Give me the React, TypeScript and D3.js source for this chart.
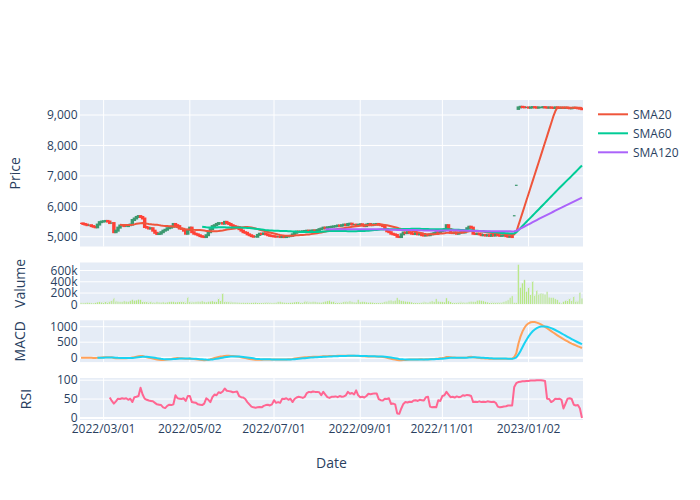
import React from "react";
import * as d3 from "d3";

// ---------- data ----------
const FIRST_DAY = "2022-02-10";
const LAST_DAY = "2023-02-10";
// market holidays (weekdays with no trading row); non-trading days are removed from the axis
const HOLIDAYS = [
  "2022-02-11", "2022-02-23", "2022-03-21", "2022-04-29", "2022-05-03", "2022-05-04", "2022-05-05",
  "2022-07-18", "2022-08-11", "2022-09-19", "2022-09-23", "2022-10-10", "2022-11-03", "2022-11-23",
  "2023-01-02", "2023-01-03", "2023-01-09",
];

// daily closing prices, one per trading day
const closes = [
  5440,
  5420, 5400, 5380, 5380, 5350, 5330, 5310,
  5400, 5480, 5500, 5510, 5520, 5500, 5450, 5450, 5150, 5200, 5300, 5370, 5380, 5350, 5350, 5380, 5400,
  5550, 5600, 5650, 5680, 5650, 5600, 5320, 5300, 5270, 5280, 5200, 5130, 5090, 5100, 5150, 5200, 5230, 5280,
  5300, 5330, 5420, 5380, 5350, 5270, 5260, 5200, 5100, 5230,
  5300,
  5150, 5100, 5080, 5050, 5020, 5000, 4990, 5050, 5150, 5250, 5350, 5380, 5420, 5450, 5450, 5430, 5490, 5450,
  5420, 5380, 5350, 5330, 5320, 5250, 5200, 5150, 5130, 5080, 5050, 5020, 5000, 5000, 5060, 5100, 5090, 5110,
  5080, 5050, 5030, 5020, 5010, 5000, 5000, 4990, 5000, 4990, 5010, 5020, 5030, 5080, 5130,
  5170, 5160, 5170, 5180, 5190, 5200, 5180, 5200, 5210, 5200, 5220, 5250, 5270, 5300, 5280, 5310, 5320,
  5330, 5340, 5350, 5370, 5360, 5380, 5400, 5380, 5420, 5430, 5400, 5400, 5380, 5390, 5410, 5380, 5350, 5400,
  5420, 5380, 5400, 5410, 5420, 5400, 5380, 5350,
  5250, 5180, 5150,
  5100, 5080, 5060, 5000, 4990, 5080, 5140, 5120, 5150, 5130,
  5100, 5090, 5120, 5080, 5100, 5050, 5040, 5060, 5050, 5080, 5100, 5120, 5150, 5130, 5180, 5200, 5250,
  5380, 5250, 5130, 5120, 5140, 5100, 5130, 5150, 5140, 5200, 5280, 5330, 5300,
  5100, 5090, 5100, 5080, 5050, 5060, 5040, 5050, 5030, 5060, 5040, 5080, 5050, 5030, 5040, 5050, 5020, 5000,
  5010, 4990, 5690, 6690,
  9250, 9270, 9260, 9250, 9250, 9240, 9250, 9260, 9250, 9240, 9250, 9250, 9260, 9250, 9240, 9250,
  9240, 9230, 9250, 9240, 9230, 9240, 9230, 9240, 9230, 9220, 9230, 9240, 9230, 9220, 9210, 9190,
];

// opening prices that differ from the previous close (gap days)
const openOverrides: Record<string, number> = {
  "2022-12-22": 5690,
  "2022-12-23": 6690,
  "2022-12-26": 9200,
};

// daily volume, thousands of shares
const volumesK = [
  30,
  25, 28, 35, 30, 25, 22, 28,
  40, 45, 38, 45, 50, 45, 60, 70, 113, 60, 55, 50, 45, 60, 55, 50, 65,
  85, 70, 75, 90, 82, 60, 55, 48, 45, 50, 40, 35, 45, 40, 38, 42, 35, 40, 45, 50, 48, 40, 42, 55, 60, 50, 45, 131,
  48,
  45, 42, 48, 55, 50, 60, 45, 40, 50, 55, 60, 48, 45, 113, 70, 193, 55, 50, 48, 45, 40, 40,
  38, 35, 30, 32, 28, 30, 25, 28, 30, 35, 32, 28, 30, 35, 40, 38, 32, 28, 30, 35, 45, 50, 40, 35, 30, 28, 32, 35, 40,
  50, 48, 40, 38, 60, 55, 45, 42, 50, 48, 40, 38, 35, 42, 55, 60, 70,
  50, 48, 45, 40, 38, 42, 50, 55, 48, 60, 45, 40, 38, 84, 42, 50, 45, 40, 35, 38, 35, 33, 32, 30, 35, 40,
  50, 55, 72,
  75, 60, 72, 117, 80, 65, 60, 55, 50, 45,
  40, 38, 35, 30, 32, 38, 45, 40, 35, 50, 60, 45, 100, 55, 48, 45, 40,
  113, 60, 48, 40, 35, 38, 42, 45, 40, 35, 38, 45, 55,
  50, 45, 72, 75, 68, 60, 48, 40, 35, 45, 42, 38, 40, 36, 38, 45, 60, 78, 121,
  150, 32, 30,
  708, 300, 378, 438, 229, 306, 180, 409, 168, 252, 186, 198, 192, 180, 229, 127, 121, 121, 97, 80,
  38, 20, 50, 68, 80, 110, 68, 140, 62, 62, 210, 110,
];

// RSI(14); the first 14 trading days have no value
const rsiValues: (number | null)[] = [
  null, null, null, null, null, null, null, null, null, null, null, null, null, null,
  54, 45, 38, 44, 51, 50, 52, 51, 52, 48, 51,
  42, 55, 56, 58, 80, 62, 51, 48, 46, 45, 44, 40, 36, 35, 34, 28, 26, 32, 35, 34, 36, 60, 52, 51, 50, 52, 45, 58,
  58,
  42, 41, 40, 36, 35, 34, 38, 52, 48, 42, 55, 62, 60, 68, 66, 70, 78, 72, 71, 70, 68, 69, 70, 58, 55, 54, 50, 42,
  36, 30, 28, 27, 28, 29, 28, 32, 34, 35, 33, 36, 47, 40, 42, 40, 51, 50, 52, 48, 51, 42, 50,
  54, 56, 55, 53, 56, 66, 69, 68, 70, 69, 69, 68, 60, 69, 62, 55, 53,
  56, 56, 57, 55, 58, 56, 57, 60, 69, 64, 66, 62, 73, 60, 55, 56, 54, 58, 64, 63, 64, 65, 65, 50, 47, 46,
  51, 50, 52,
  37, 38, 36, 12, 11, 25, 37, 42, 41, 43,
  42, 46, 47, 45, 48, 47, 46, 55, 56, 30, 28, 29, 28, 47, 45, 58, 60,
  69, 62, 55, 56, 54, 57, 55, 56, 60, 59, 61, 60, 58,
  42, 43, 42, 44, 42, 43, 42, 44, 43, 42, 43, 40, 30, 28, 29, 30, 31, 33,
  33, 33, 82, 92, 95,
  96, 97, 97, 98, 98, 99, 99, 99, 100, 100, 100, 99, 98,
  51,
  50, 42, 45, 51, 50, 51, 48, 25, 38, 51, 52, 50, 35, 33, 34, 25, 0,
];

const smaWindows = [20, 60, 120];
const smaNames = ["SMA20", "SMA60", "SMA120"];
const smaColors = ["#EF553B", "#00cc96", "#ab63fa"];

const priceTicks = [5000, 6000, 7000, 8000, 9000];
const volumeTicks = [0, 200000, 400000, 600000];
const macdTicks = [0, 500, 1000];
const rsiTicks = [0, 50, 100];
const xTickDates = ["2022-03-01", "2022-05-02", "2022-07-01", "2022-09-01", "2022-11-01", "2023-01-02"];

// ---------- helpers ----------
function tradingDays(): string[] {
  const out: string[] = [];
  const d = new Date(FIRST_DAY + "T00:00:00Z");
  const end = new Date(LAST_DAY + "T00:00:00Z");
  while (d <= end) {
    const day = d.getUTCDay();
    const iso = d.toISOString().slice(0, 10);
    if (day !== 0 && day !== 6 && !HOLIDAYS.includes(iso)) out.push(iso);
    d.setUTCDate(d.getUTCDate() + 1);
  }
  return out;
}

function rolling(values: number[], n: number): (number | null)[] {
  return values.map((_, i) => (i < n - 1 ? null : (d3.mean(values.slice(i - n + 1, i + 1)) as number)));
}

function ewm(values: number[], span: number): number[] {
  const a = 2 / (span + 1);
  let num = 0;
  let den = 0;
  return values.map((v) => {
    num = v + (1 - a) * num;
    den = 1 + (1 - a) * den;
    return num / den;
  });
}

// ---------- layout ----------
const FONT = '"Open Sans", verdana, arial, sans-serif';
const TXT = "#2a3f5f";
const BG = "#E5ECF6";
const L = 80;
const R = 583;
const panels = {
  price: [100, 246.5],
  vol: [262.5, 304.3],
  macd: [320.3, 362.1],
  rsi: [378.1, 420],
};

export default function App() {
  const days = tradingDays();
  const n = Math.min(days.length, closes.length);
  const rows = days.slice(0, n).map((date, i) => ({
    date,
    i,
    close: closes[i],
    open: openOverrides[date] ?? (i === 0 ? closes[0] : closes[i - 1]),
    volume: (volumesK[i] ?? 0) * 1000,
    rsi: rsiValues[i] ?? null,
  }));

  // date axis with non-trading days removed: one slot per trading row
  const x = d3.scaleLinear().domain([-0.5, n - 0.5]).range([L, R]);
  const yP = d3.scaleLinear().domain([4680, 9493]).range([panels.price[1], panels.price[0]]);
  const yV = d3.scaleLinear().domain([0, 743000]).range([panels.vol[1], panels.vol[0]]);
  const yM = d3.scaleLinear().domain([-142, 1206]).range([panels.macd[1], panels.macd[0]]);
  const yR = d3.scaleLinear().domain([-5.5, 105.5]).range([panels.rsi[1], panels.rsi[0]]);

  const cl = rows.map((r) => r.close);
  const smas = smaWindows.map((w) => rolling(cl, w));
  const ema12 = ewm(cl, 12);
  const ema26 = ewm(cl, 26);
  const macd = ema12.map((v, i) => v - ema26[i]);
  const signalRaw = ewm(macd, 9);
  const signal = signalRaw.map((v, i) => (i < 8 ? null : v));

  const lineGen = (ys: d3.ScaleLinear<number, number>) =>
    d3
      .line<{ i: number; v: number | null }>()
      .defined((d) => d.v !== null && d.v !== undefined)
      .x((d) => x(d.i))
      .y((d) => ys(d.v as number));

  // a tick on a non-trading day sits at the next trading day
  const xTicks = xTickDates.map((d) => ({
    i: rows.findIndex((r) => r.date >= d),
    label: d.replace(/-/g, "/"),
  }));
  const dayPx = x(1) - x(0);
  const fmtComma = d3.format(",");
  const fmtK = (v: number) => (v === 0 ? "0" : `${v / 1000}k`);

  const panelBg = (key: keyof typeof panels) => (
    <rect x={L} y={panels[key][0]} width={R - L} height={panels[key][1] - panels[key][0]} fill={BG} />
  );

  const hGrid = (ticks: number[], ys: any, zero = false) =>
    ticks.map((t) => (
      <line key={t} x1={L} x2={R} y1={ys(t)} y2={ys(t)} stroke="#fff" strokeWidth={zero && t === 0 ? 2 : 1} />
    ));

  const vGrid = (key: keyof typeof panels) =>
    xTicks.map((t) => (
      <line key={t.label} x1={x(t.i)} x2={x(t.i)} y1={panels[key][0]} y2={panels[key][1]} stroke="#fff" strokeWidth={1} />
    ));

  const yLabels = (ticks: number[], ys: any, fmt: (v: number) => string) =>
    ticks.map((t) => (
      <text key={t} x={L - 2.5} y={ys(t) + 4.2} textAnchor="end" fontSize={12} fill={TXT} fontFamily={FONT}>
        {fmt(t)}
      </text>
    ));

  const yTitle = (label: string, xb: number, key: keyof typeof panels) => {
    const cy = (panels[key][0] + panels[key][1]) / 2;
    return (
      <text transform={`translate(${xb},${cy}) rotate(-90)`} textAnchor="middle" fontSize={14} fill={TXT} fontFamily={FONT}>
        {label}
      </text>
    );
  };

  const bodyW = dayPx * 0.7;

  return (
    <svg width={700} height={500} style={{ position: "absolute", left: 0, top: 0, background: "#fff" }}>
      <defs>
        {(Object.keys(panels) as (keyof typeof panels)[]).map((k) => (
          <clipPath id={`clip-${k}`} key={k}>
            <rect x={L} y={panels[k][0]} width={R - L} height={panels[k][1] - panels[k][0]} />
          </clipPath>
        ))}
      </defs>

      {panelBg("price")}
      {panelBg("vol")}
      {panelBg("macd")}
      {panelBg("rsi")}

      {vGrid("price")}
      {vGrid("macd")}
      {vGrid("rsi")}
      {hGrid(priceTicks, yP)}
      {hGrid(volumeTicks, yV, true)}
      {hGrid(macdTicks, yM, true)}
      {hGrid(rsiTicks, yR, true)}

      {/* candlesticks */}
      <g clipPath="url(#clip-price)">
        {rows.map((r, i) => {
          const up = r.close > r.open || (r.close === r.open && i > 0 && r.close >= closes[i - 1]);
          const col = up ? "#3D9970" : "#FF4136";
          const fill = up ? "rgba(61,153,112,0.5)" : "rgba(255,65,54,0.5)";
          const yTop = yP(Math.max(r.open, r.close));
          const yBot = yP(Math.min(r.open, r.close));
          return (
            <rect
              key={i}
              x={x(r.i) - bodyW / 2}
              y={yTop}
              width={bodyW}
              height={Math.max(yBot - yTop, 0.01)}
              fill={fill}
              stroke={col}
              strokeWidth={r.close === r.open ? 1.2 : 2}
            />
          );
        })}
        {smas.map((s, k) => (
          <path
            key={smaNames[k]}
            d={lineGen(yP)(rows.map((r, i) => ({ i: r.i, v: s[i] }))) || ""}
            fill="none"
            stroke={smaColors[k]}
            strokeWidth={2}
            strokeLinejoin="round"
          />
        ))}
      </g>

      {/* volume */}
      <g clipPath="url(#clip-vol)">
        {rows.map((r, i) => (
          <rect
            key={i}
            x={x(r.i) - dayPx * 0.4}
            y={yV(r.volume)}
            width={dayPx * 0.8}
            height={yV(0) - yV(r.volume)}
            fill="#B6E880"
            stroke={BG}
            strokeWidth={0.5}
          />
        ))}
      </g>

      {/* MACD */}
      <g clipPath="url(#clip-macd)">
        <path d={lineGen(yM)(rows.map((r, i) => ({ i: r.i, v: macd[i] }))) || ""} fill="none" stroke="#FFA15A" strokeWidth={2} />
        <path d={lineGen(yM)(rows.map((r, i) => ({ i: r.i, v: signal[i] }))) || ""} fill="none" stroke="#19d3f3" strokeWidth={2} />
      </g>

      {/* RSI */}
      <g clipPath="url(#clip-rsi)">
        <path
          d={lineGen(yR)(rows.map((r) => ({ i: r.i, v: r.rsi }))) || ""}
          fill="none"
          stroke="#FF6692"
          strokeWidth={2}
          strokeLinejoin="round"
        />
      </g>

      {/* axes labels */}
      {yLabels(priceTicks, yP, (v) => fmtComma(v))}
      {yLabels(volumeTicks, yV, fmtK)}
      {yLabels(macdTicks, yM, (v) => String(v))}
      {yLabels(rsiTicks, yR, (v) => String(v))}
      {xTicks.map((t) => (
        <text key={t.label} x={x(t.i)} y={432.5} textAnchor="middle" fontSize={12} fill={TXT} fontFamily={FONT}>
          {t.label}
        </text>
      ))}

      {yTitle("Price", 19.5, "price")}
      {yTitle("Valume", 24.5, "vol")}
      {yTitle("MACD", 24.5, "macd")}
      {yTitle("RSI", 31, "rsi")}
      <text x={(L + R) / 2} y={468} textAnchor="middle" fontSize={14} fill={TXT} fontFamily={FONT}>
        Date
      </text>

      {/* legend */}
      {smaNames.map((name, k) => (
        <g key={name} transform={`translate(593,${114.3 + k * 19})`}>
          <line x1={5} x2={35} y1={0} y2={0} stroke={smaColors[k]} strokeWidth={2} />
          <text x={40} y={4.3} fontSize={12} fill={TXT} fontFamily={FONT}>
            {name}
          </text>
        </g>
      ))}
    </svg>
  );
}
